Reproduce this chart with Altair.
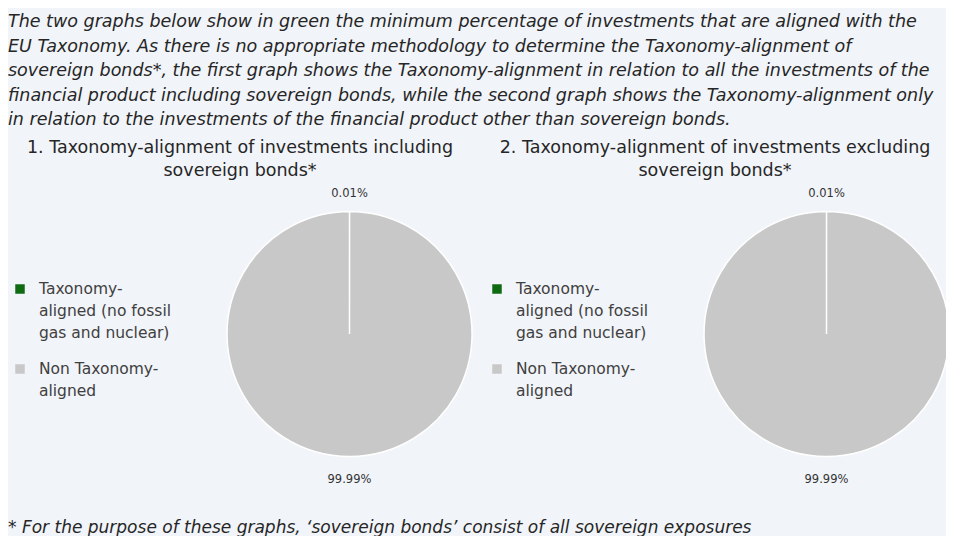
import altair as alt
import pandas as pd

# ---- data ----
categories = ["Taxonomy-aligned (no fossil gas and nuclear)", "Non Taxonomy-aligned"]
legend_labels = ["Taxonomy-\naligned (no fossil\ngas and nuclear)", "Non Taxonomy-\naligned"]
values_incl = [0.01, 99.99]
values_excl = [0.01, 99.99]
value_labels_incl = ["0.01%", "99.99%"]
value_labels_excl = ["0.01%", "99.99%"]
colors = ["#0E6B12", "#C8C8C8"]

intro = ("The two graphs below show in green the minimum percentage of investments that are aligned with the\n"
         "EU Taxonomy. As there is no appropriate methodology to determine the Taxonomy-alignment of\n"
         "sovereign bonds*, the first graph shows the Taxonomy-alignment in relation to all the investments of the\n"
         "financial product including sovereign bonds, while the second graph shows the Taxonomy-alignment only\n"
         "in relation to the investments of the financial product other than sovereign bonds.")
title1 = "1. Taxonomy-alignment of investments including\nsovereign bonds*"
title2 = "2. Taxonomy-alignment of investments excluding\nsovereign bonds*"
footnote = "* For the purpose of these graphs, \u2018sovereign bonds\u2019 consist of all sovereign exposures"

rows = []
for g, vals, labs in [("incl", values_incl, value_labels_incl), ("excl", values_excl, value_labels_excl)]:
    for i, (c, v, l, ll) in enumerate(zip(categories, vals, labs, legend_labels)):
        rows.append({"graph": g, "category": c, "value": v, "label": l, "legend": ll, "ord": i})
df = pd.DataFrame(rows)

FONT = "DejaVu Sans"
BG = "#F1F4F9"
color_scale = alt.Scale(domain=categories, range=colors)

base = alt.Chart(df)
one = alt.Data(values=[{"k": 1}])

def pie(graph, cx, cy):
    src = base.transform_filter(alt.datum.graph == graph)
    arc = src.mark_arc(stroke="white", strokeWidth=1.5, radius=122.5).encode(
        theta=alt.Theta("value:Q", stack=True),
        color=alt.Color("category:N", scale=color_scale, legend=None),
        order=alt.Order("ord:Q"),
        x=alt.value(cx), y=alt.value(cy),
    )
    lbl = src.mark_text(font=FONT, fontSize=11.5, color="#333333", radius=143, dy=3).encode(
        theta=alt.Theta("value:Q", stack=True),
        order=alt.Order("ord:Q"),
        text="label:N",
        x=alt.value(cx), y=alt.value(cy),
    )
    return [arc, lbl]

def legend(graph, sx):
    src = base.transform_filter(alt.datum.graph == graph)
    yscale = alt.Scale(domain=categories, range=[281, 361], padding=0)
    sq = src.mark_square(size=90, opacity=1).encode(
        x=alt.value(sx),
        y=alt.Y("category:N", scale=yscale, axis=None),
        color=alt.Color("category:N", scale=color_scale, legend=None),
    )
    tx = src.mark_text(font=FONT, fontSize=15.5, color="#404040", align="left",
                       baseline="top", lineBreak="\n", lineHeight=22).encode(
        x=alt.value(sx + 19),
        y=alt.Y("category:N", scale=yscale, axis=None),
        yOffset=alt.value(-7),
        text="legend:N",
    )
    return [sq, tx]

def text_block(txt, x, y, size, italic=False, align="left", color="#262626", lh=None):
    return alt.Chart(one).mark_text(
        font=FONT, fontSize=size, fontStyle="italic" if italic else "normal",
        align=align, baseline="top", lineBreak="\n", lineHeight=lh or size * 1.35,
        color=color,
    ).encode(x=alt.value(x), y=alt.value(y), text=alt.value(txt))

layers = []
layers += pie("incl", 341.5, 326)
layers += pie("excl", 818.5, 326)
layers += legend("incl", 12)
layers += legend("excl", 489)
layers.append(text_block(intro, 0, 5, 17.5, italic=True, lh=24.5))
layers.append(text_block(title1, 232, 131, 17.5, align="center", lh=23))
layers.append(text_block(title2, 707, 131, 17.5, align="center", lh=23))
layers.append(text_block(footnote, 0, 512, 17, italic=True))

chart = alt.layer(*layers).properties(
    width=938, height=528, background=BG,
    autosize=alt.AutoSizeParams(type="none"), padding=0,
).configure_view(stroke=None, fill=BG)

chart.save("out.html", embed_options={"renderer": "svg", "actions": False})
